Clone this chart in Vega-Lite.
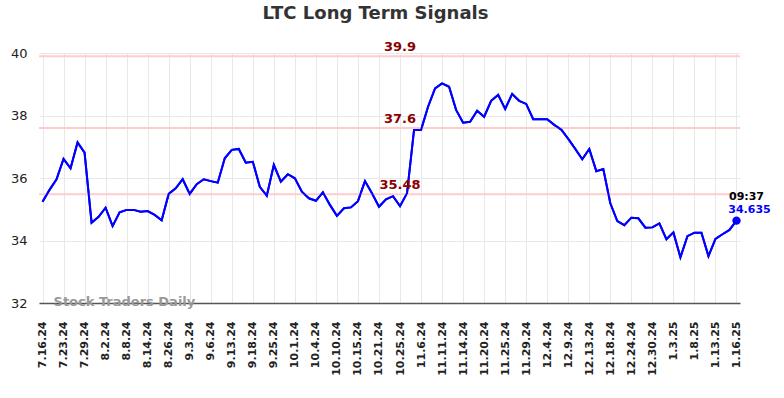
{
  "$schema": "https://vega.github.io/schema/vega-lite/v6.json",
  "autosize": "none",
  "width": 701,
  "height": 250,
  "padding": {"left": 39, "top": 53, "right": 44, "bottom": 95},
  "title": {"text": "LTC Long Term Signals", "fontSize": 18, "fontWeight": "bold", "color": "#333333", "font": "DejaVu Sans", "anchor": "middle", "dx": -14, "offset": 18},
  "config": {
    "view": {"stroke": null},
    "font": "DejaVu Sans",
    "axis": {"gridColor": "#e8e8e8", "gridWidth": 1}
  },
  "datasets": {
    "prices": [
      {"date": "7.16.24", "price": 35.24}, {"date": "7.18.24", "price": 35.62}, {"date": "7.22.24", "price": 35.96},
      {"date": "7.23.24", "price": 36.61}, {"date": "7.25.24", "price": 36.31}, {"date": "7.26.24", "price": 37.14},
      {"date": "7.29.24", "price": 36.81}, {"date": "7.30.24", "price": 34.57}, {"date": "8.1.24", "price": 34.76},
      {"date": "8.2.24", "price": 35.05}, {"date": "8.5.24", "price": 34.46}, {"date": "8.6.24", "price": 34.9},
      {"date": "8.8.24", "price": 34.98}, {"date": "8.9.24", "price": 34.98}, {"date": "8.12.24", "price": 34.92},
      {"date": "8.14.24", "price": 34.94}, {"date": "8.19.24", "price": 34.82}, {"date": "8.22.24", "price": 34.65},
      {"date": "8.26.24", "price": 35.49}, {"date": "8.28.24", "price": 35.67}, {"date": "8.30.24", "price": 35.96},
      {"date": "9.3.24", "price": 35.49}, {"date": "9.4.24", "price": 35.8}, {"date": "9.5.24", "price": 35.96},
      {"date": "9.6.24", "price": 35.9}, {"date": "9.10.24", "price": 35.85}, {"date": "9.11.24", "price": 36.63},
      {"date": "9.13.24", "price": 36.9}, {"date": "9.16.24", "price": 36.93}, {"date": "9.17.24", "price": 36.49},
      {"date": "9.18.24", "price": 36.52}, {"date": "9.20.24", "price": 35.72}, {"date": "9.23.24", "price": 35.43},
      {"date": "9.25.24", "price": 36.42}, {"date": "9.26.24", "price": 35.88}, {"date": "9.30.24", "price": 36.12},
      {"date": "10.1.24", "price": 35.99}, {"date": "10.2.24", "price": 35.56}, {"date": "10.3.24", "price": 35.35},
      {"date": "10.4.24", "price": 35.27}, {"date": "10.7.24", "price": 35.54}, {"date": "10.8.24", "price": 35.14},
      {"date": "10.10.24", "price": 34.79}, {"date": "10.11.24", "price": 35.03}, {"date": "10.14.24", "price": 35.06},
      {"date": "10.15.24", "price": 35.26}, {"date": "10.17.24", "price": 35.9}, {"date": "10.18.24", "price": 35.51},
      {"date": "10.21.24", "price": 35.08}, {"date": "10.23.24", "price": 35.32}, {"date": "10.24.24", "price": 35.42},
      {"date": "10.25.24", "price": 35.1}, {"date": "10.29.24", "price": 35.51}, {"date": "11.1.24", "price": 37.54},
      {"date": "11.6.24", "price": 37.54}, {"date": "11.7.24", "price": 38.28}, {"date": "11.8.24", "price": 38.87},
      {"date": "11.11.24", "price": 39.03}, {"date": "11.12.24", "price": 38.92}, {"date": "11.13.24", "price": 38.18},
      {"date": "11.14.24", "price": 37.77}, {"date": "11.18.24", "price": 37.8}, {"date": "11.19.24", "price": 38.15},
      {"date": "11.20.24", "price": 37.96}, {"date": "11.21.24", "price": 38.47}, {"date": "11.22.24", "price": 38.66},
      {"date": "11.25.24", "price": 38.21}, {"date": "11.26.24", "price": 38.69}, {"date": "11.27.24", "price": 38.47},
      {"date": "11.29.24", "price": 38.37}, {"date": "12.2.24", "price": 37.88}, {"date": "12.3.24", "price": 37.88},
      {"date": "12.4.24", "price": 37.88}, {"date": "12.5.24", "price": 37.7}, {"date": "12.6.24", "price": 37.55},
      {"date": "12.9.24", "price": 37.25}, {"date": "12.10.24", "price": 36.93}, {"date": "12.11.24", "price": 36.6},
      {"date": "12.13.24", "price": 36.93}, {"date": "12.16.24", "price": 36.22}, {"date": "12.17.24", "price": 36.29},
      {"date": "12.18.24", "price": 35.19}, {"date": "12.19.24", "price": 34.62}, {"date": "12.20.24", "price": 34.49},
      {"date": "12.24.24", "price": 34.73}, {"date": "12.26.24", "price": 34.71}, {"date": "12.27.24", "price": 34.41},
      {"date": "12.30.24", "price": 34.42}, {"date": "12.31.24", "price": 34.55}, {"date": "1.2.25", "price": 34.04},
      {"date": "1.3.25", "price": 34.26}, {"date": "1.6.25", "price": 33.46}, {"date": "1.7.25", "price": 34.14},
      {"date": "1.8.25", "price": 34.25}, {"date": "1.9.25", "price": 34.25}, {"date": "1.10.25", "price": 33.5},
      {"date": "1.13.25", "price": 34.05}, {"date": "1.14.25", "price": 34.2}, {"date": "1.15.25", "price": 34.34},
      {"date": "1.16.25", "price": 34.635}
    ],
    "levels": [{"level": 39.9}, {"level": 37.6}, {"level": 35.48}],
    "last": [{"date": "1.16.25", "price": 34.635, "time": "09:37"}]
  },
  "layer": [
    {
      "data": {"name": "prices"},
      "mark": {"type": "line", "color": "#0000ff", "strokeWidth": 2},
      "encoding": {
        "x": {
          "field": "date", "type": "ordinal", "sort": null,
          "scale": {"type": "point", "padding": 0.5},
          "axis": {
            "title": null,
            "values": ["7.16.24","7.23.24","7.29.24","8.2.24","8.8.24","8.14.24","8.26.24","9.3.24","9.6.24","9.13.24","9.18.24","9.25.24","10.1.24","10.4.24","10.10.24","10.15.24","10.21.24","10.25.24","11.6.24","11.11.24","11.14.24","11.20.24","11.25.24","11.29.24","12.4.24","12.9.24","12.13.24","12.18.24","12.24.24","12.30.24","1.3.25","1.8.25","1.13.25","1.16.25"],
            "labelAngle": -90, "labelFontSize": 11, "labelFontWeight": "bold", "labelColor": "#222222",
            "labelPadding": 18, "ticks": false, "domainColor": "#555555", "domainWidth": 1.5, "grid": true
          }
        },
        "y": {
          "field": "price", "type": "quantitative",
          "scale": {"domain": [32, 40], "nice": false, "zero": false},
          "axis": {"title": null, "values": [32, 34, 36, 38, 40], "ticks": false, "domain": false, "labelFontSize": 13, "labelColor": "#222222", "labelPadding": 12}
        }
      }
    },
    {
      "data": {"name": "levels"},
      "mark": {"type": "rule", "color": "#ffcccc", "strokeWidth": 2},
      "encoding": {"y": {"field": "level", "type": "quantitative"}}
    },
    {
      "data": {"name": "prices"},
      "mark": {"type": "line", "color": "#0000ff", "strokeWidth": 2},
      "encoding": {
        "x": {"field": "date", "type": "ordinal", "sort": null},
        "y": {"field": "price", "type": "quantitative"}
      }
    },
    {
      "data": {"name": "levels"},
      "mark": {"type": "text", "color": "#8b0000", "fontSize": 13, "fontWeight": "bold", "dy": -9, "dx": 0},
      "encoding": {
        "x": {"datum": "10.25.24", "type": "ordinal"},
        "y": {"field": "level", "type": "quantitative"},
        "text": {"field": "level", "type": "quantitative"}
      }
    },
    {
      "data": {"name": "last"},
      "mark": {"type": "point", "filled": true, "color": "#0000ff", "size": 70, "opacity": 1},
      "encoding": {
        "x": {"field": "date", "type": "ordinal", "sort": null},
        "y": {"field": "price", "type": "quantitative"}
      }
    },
    {
      "data": {"name": "last"},
      "mark": {"type": "text", "color": "#000000", "fontSize": 11, "fontWeight": "bold", "dy": -24, "dx": 10},
      "encoding": {
        "x": {"field": "date", "type": "ordinal", "sort": null},
        "y": {"field": "price", "type": "quantitative"},
        "text": {"field": "time"}
      }
    },
    {
      "data": {"name": "last"},
      "mark": {"type": "text", "color": "#0000ff", "fontSize": 11, "fontWeight": "bold", "dy": -11, "dx": 13},
      "encoding": {
        "x": {"field": "date", "type": "ordinal", "sort": null},
        "y": {"field": "price", "type": "quantitative"},
        "text": {"field": "price", "type": "quantitative", "format": ".3f"}
      }
    },
    {
      "data": {"values": [{"label": "Stock Traders Daily"}]},
      "mark": {"type": "text", "color": "#999999", "fontSize": 13, "fontWeight": "bold", "align": "left", "baseline": "middle", "dx": 4, "dy": -1},
      "encoding": {
        "x": {"datum": "7.18.24", "type": "ordinal"},
        "y": {"datum": 32, "type": "quantitative"},
        "text": {"field": "label"}
      }
    }
  ]
}
